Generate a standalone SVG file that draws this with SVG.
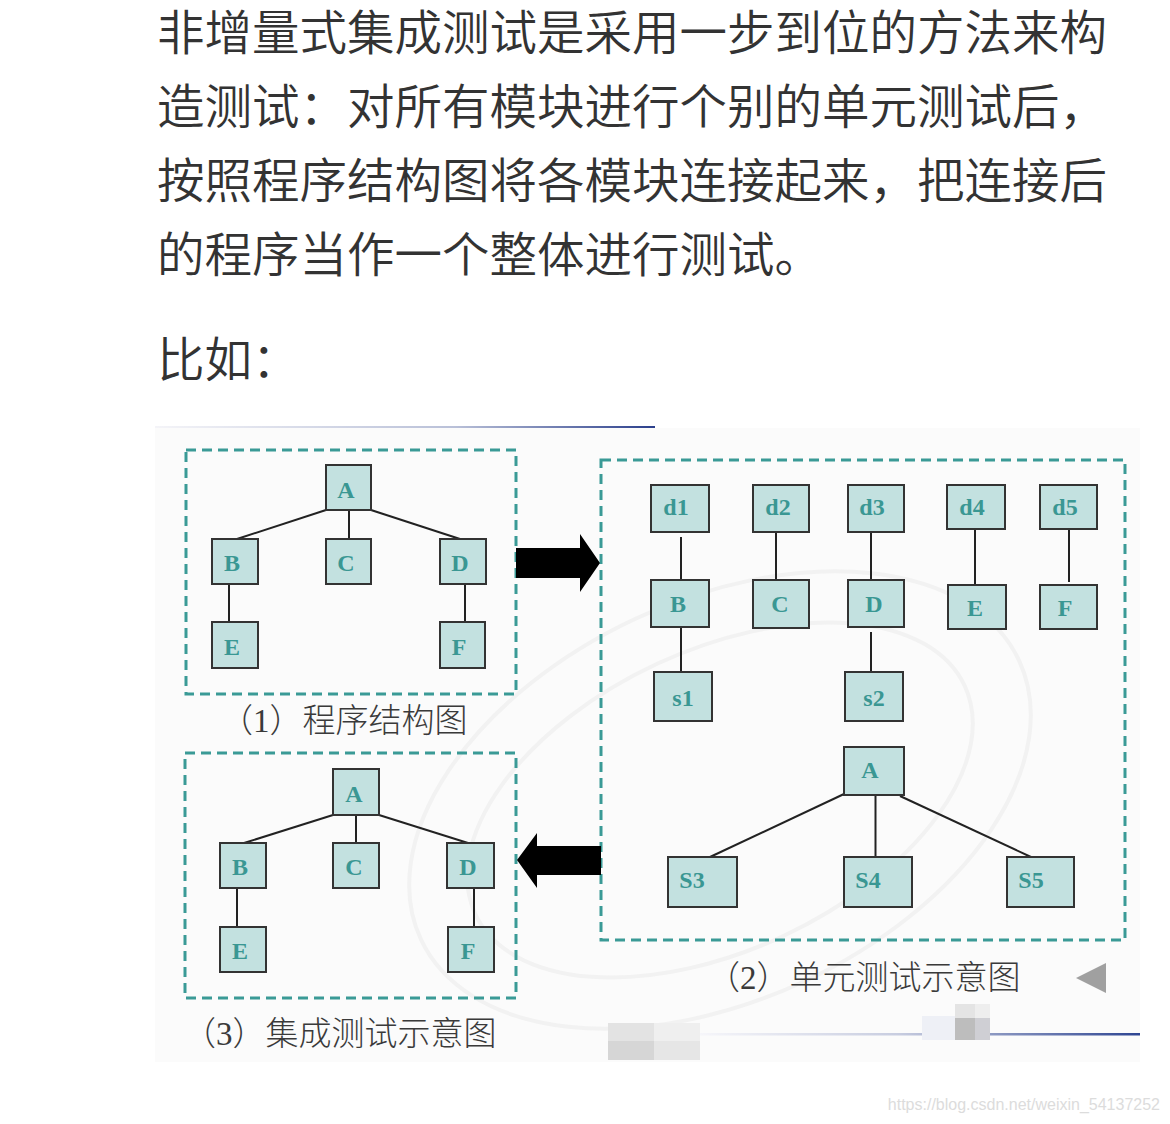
<svg xmlns="http://www.w3.org/2000/svg" width="1170" height="1124" viewBox="0 0 1170 1124">
<defs>
<linearGradient id="gTop" x1="0" y1="0" x2="1" y2="0"><stop offset="0" stop-color="#f4f4f8"/><stop offset="0.6" stop-color="#b9c0d8"/><stop offset="1" stop-color="#2b3f8c"/></linearGradient>
<linearGradient id="gBot" x1="0" y1="0" x2="1" y2="0"><stop offset="0" stop-color="#f6f6fa"/><stop offset="0.45" stop-color="#c8cde0"/><stop offset="1" stop-color="#2e4592"/></linearGradient>
<style>
.para{font-family:"Noto Sans CJK SC","Noto Sans",sans-serif;font-size:47.5px;font-weight:350;fill:#333333}
.cap{font-family:"Liberation Serif","Noto Sans CJK SC",serif;font-size:33px;font-weight:300;fill:#3a3a3a}
.frame{fill:none;stroke:#3a9a96;stroke-width:3;stroke-dasharray:10 6}
.node rect{fill:#c3e1e0;stroke:#333333;stroke-width:2}
.node text{font-family:"Liberation Serif",serif;font-weight:bold;font-size:24px;fill:#3a9793;text-anchor:middle}
.conn line{stroke:#222222;stroke-width:2}
.wm{fill:none;stroke:#f2f2f2;stroke-width:4}
.url{font-family:"Liberation Sans",sans-serif;font-size:16px;fill:#dcdcdc}
</style>
</defs>
<rect x="0" y="0" width="1170" height="1124" fill="#ffffff"/>
<g id="paragraph">
<text class="para" x="157" y="50">非增量式集成测试是采用一步到位的方法来构</text>
<text class="para" x="157" y="124">造测试：对所有模块进行个别的单元测试后，</text>
<text class="para" x="157" y="198">按照程序结构图将各模块连接起来，把连接后</text>
<text class="para" x="157" y="272">的程序当作一个整体进行测试。</text>
<text class="para" x="157" y="377">比如：</text>
</g>
<g id="picture-bg">
<rect x="155" y="428" width="985" height="634" fill="#fbfbfb"/>
<rect x="155" y="426" width="500" height="2" fill="url(#gTop)"/>
<ellipse class="wm" cx="720" cy="800" rx="330" ry="200" transform="rotate(-25 720 800)"/>
<ellipse class="wm" cx="720" cy="800" rx="270" ry="150" transform="rotate(-25 720 800)"/>
<rect x="700" y="1033" width="440" height="2.5" fill="url(#gBot)"/>
<rect x="608" y="1023" width="46" height="18" fill="#e3e3e3"/>
<rect x="654" y="1023" width="46" height="18" fill="#efefef"/>
<rect x="608" y="1041" width="46" height="19" fill="#d6d6d6"/>
<rect x="654" y="1041" width="46" height="19" fill="#e6e6e6"/>
<rect x="922" y="1016" width="33" height="24" fill="#eef0f6"/>
<rect x="955" y="1004" width="20" height="14" fill="#e4e4e4"/>
<rect x="955" y="1018" width="20" height="22" fill="#bdbdbd"/>
<rect x="975" y="1004" width="15" height="14" fill="#eeeeee"/>
<rect x="975" y="1018" width="15" height="22" fill="#cfcfd4"/>
<polygon points="1076,978 1106,963 1106,993" fill="#a0a0a0"/>
</g>
<g id="frames">
<rect class="frame" x="186" y="450" width="330" height="244"/>
<rect class="frame" x="601" y="460" width="524" height="480"/>
<rect class="frame" x="185" y="753" width="331" height="245"/>
</g>
<g id="arrows">
<polygon points="516,548 580,548 580,534 600,563 580,592 580,578 516,578" fill="#000000"/>
<polygon points="601,846 537,846 537,833 517,860 537,888 537,875 601,875" fill="#000000"/>
</g>
<g id="connectors" class="conn">
<line x1="326" y1="510" x2="237" y2="539"/>
<line x1="349" y1="510" x2="349" y2="539"/>
<line x1="371" y1="510" x2="460" y2="539"/>
<line x1="229" y1="584" x2="229" y2="622"/>
<line x1="465" y1="584" x2="465" y2="622"/>
<line x1="681" y1="537" x2="681" y2="580"/>
<line x1="681" y1="627" x2="681" y2="672"/>
<line x1="776" y1="532" x2="776" y2="580"/>
<line x1="871" y1="532" x2="871" y2="580"/>
<line x1="871" y1="632" x2="871" y2="672"/>
<line x1="975" y1="529" x2="975" y2="585"/>
<line x1="1069" y1="530" x2="1069" y2="582"/>
<line x1="844" y1="794" x2="710" y2="857"/>
<line x1="875.5" y1="795" x2="875.5" y2="857"/>
<line x1="900" y1="796" x2="1031" y2="857"/>
<line x1="333" y1="815" x2="244" y2="843"/>
<line x1="356" y1="815" x2="356" y2="843"/>
<line x1="379" y1="815" x2="468" y2="843"/>
<line x1="237" y1="888" x2="237" y2="927"/>
<line x1="474" y1="888" x2="474" y2="927"/>
</g>
<g id="p1-A" class="node"><rect x="326" y="465" width="45" height="45"/><text x="346" y="498">A</text></g>
<g id="p1-B" class="node"><rect x="212" y="539" width="46" height="45"/><text x="232" y="571">B</text></g>
<g id="p1-C" class="node"><rect x="326" y="539" width="45" height="45"/><text x="346" y="571">C</text></g>
<g id="p1-D" class="node"><rect x="440" y="539" width="46" height="45"/><text x="460" y="571">D</text></g>
<g id="p1-E" class="node"><rect x="212" y="622" width="46" height="46"/><text x="232" y="655">E</text></g>
<g id="p1-F" class="node"><rect x="440" y="622" width="45" height="46"/><text x="459" y="655">F</text></g>
<g id="p2-d1" class="node"><rect x="651" y="485" width="58" height="47"/><text x="676" y="515">d1</text></g>
<g id="p2-d2" class="node"><rect x="753" y="485" width="56" height="47"/><text x="778" y="515">d2</text></g>
<g id="p2-d3" class="node"><rect x="848" y="485" width="56" height="47"/><text x="872" y="515">d3</text></g>
<g id="p2-d4" class="node"><rect x="947" y="485" width="58" height="44"/><text x="972" y="515">d4</text></g>
<g id="p2-d5" class="node"><rect x="1040" y="485" width="57" height="44"/><text x="1065" y="515">d5</text></g>
<g id="p2-B" class="node"><rect x="651" y="580" width="58" height="47"/><text x="678" y="612">B</text></g>
<g id="p2-C" class="node"><rect x="753" y="580" width="56" height="48"/><text x="780" y="612">C</text></g>
<g id="p2-D" class="node"><rect x="848" y="580" width="56" height="47"/><text x="874" y="612">D</text></g>
<g id="p2-E" class="node"><rect x="948" y="585" width="58" height="44"/><text x="975" y="616">E</text></g>
<g id="p2-F" class="node"><rect x="1040" y="585" width="57" height="44"/><text x="1065" y="616">F</text></g>
<g id="p2-s1" class="node"><rect x="654" y="672" width="58" height="49"/><text x="683" y="706">s1</text></g>
<g id="p2-s2" class="node"><rect x="845" y="672" width="58" height="49"/><text x="874" y="706">s2</text></g>
<g id="p2-A" class="node"><rect x="844" y="747" width="60" height="48"/><text x="870" y="778">A</text></g>
<g id="p2-S3" class="node"><rect x="668" y="857" width="69" height="50"/><text x="692" y="888">S3</text></g>
<g id="p2-S4" class="node"><rect x="844" y="857" width="68" height="50"/><text x="868" y="888">S4</text></g>
<g id="p2-S5" class="node"><rect x="1007" y="857" width="67" height="50"/><text x="1031" y="888">S5</text></g>
<g id="p3-A" class="node"><rect x="333" y="769" width="46" height="46"/><text x="354" y="802">A</text></g>
<g id="p3-B" class="node"><rect x="220" y="843" width="46" height="45"/><text x="240" y="875">B</text></g>
<g id="p3-C" class="node"><rect x="333" y="843" width="46" height="45"/><text x="354" y="875">C</text></g>
<g id="p3-D" class="node"><rect x="447" y="843" width="47" height="45"/><text x="468" y="875">D</text></g>
<g id="p3-E" class="node"><rect x="220" y="927" width="46" height="45"/><text x="240" y="959">E</text></g>
<g id="p3-F" class="node"><rect x="448" y="927" width="46" height="45"/><text x="468" y="959">F</text></g>
<g id="captions">
<text class="cap" x="220" y="732">（1）程序结构图</text>
<text class="cap" x="707" y="989">（2）单元测试示意图</text>
<text class="cap" x="183" y="1045">（3）集成测试示意图</text>
</g>
<text class="url" x="1160" y="1110" text-anchor="end">https://blog.csdn.net/weixin_54137252</text>
</svg>
